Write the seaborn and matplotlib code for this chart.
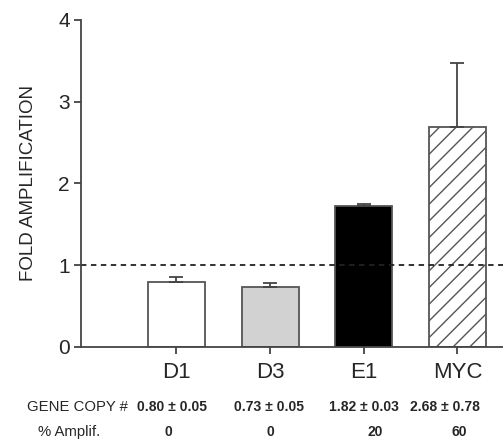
import matplotlib
matplotlib.use("Agg")
import matplotlib.pyplot as plt
import seaborn as sns
import pandas as pd

genes = ["D1", "D3", "E1", "MYC"]
fold = [0.80, 0.73, 1.72, 2.69]
fold_err = [0.05, 0.05, 0.03, 0.78]
bar_colors = ["#ffffff", "#d2d2d2", "#000000", "#ffffff"]
copy_labels = ["0.80 \u00b1 0.05", "0.73 \u00b1 0.05", "1.82 \u00b1 0.03", "2.68 \u00b1 0.78"]
amplif_labels = ["0", "0", "20", "60"]
yticks = [0, 1, 2, 3, 4]

sns.set_style("ticks")
plt.rcParams["font.family"] = ["Liberation Sans", "DejaVu Sans"]
plt.rcParams["hatch.color"] = "#444444"
plt.rcParams["hatch.linewidth"] = 1.0

df = pd.DataFrame({"gene": genes, "fold": fold})

fig = plt.figure(figsize=(5.03, 4.42), dpi=100)
ax = fig.add_axes([0.161, 0.215, 0.86, 0.74])

sns.barplot(data=df, x="gene", y="fold", hue="gene", palette=bar_colors,
            width=0.61, edgecolor="#555555", linewidth=1.3, legend=False,
            errorbar=None, ax=ax)
ax.patches[3].set_hatch("//")

# upward-only error bars
ax.errorbar(range(len(genes)), fold, yerr=[[0] * len(genes), fold_err],
            fmt="none", ecolor="#444444", elinewidth=1.3, capsize=5, capthick=1.3)

ax.axhline(1, color="#222222", linestyle=(0, (3, 2.5)), linewidth=1.3)

ax.set_xlim(-1.02, 3.6)
ax.set_ylim(0, 4)
ax.set_yticks(yticks)
ax.set_xlabel("")
ax.set_ylabel("FOLD AMPLIFICATION", fontsize=13.5, labelpad=15)
ax.tick_params(axis="y", labelsize=15, length=5, width=1.3, color="#444444", pad=3)
ax.tick_params(axis="x", labelsize=16, length=5, width=1.3, color="#444444", pad=6)
sns.despine(ax=ax)
for side in ["left", "bottom"]:
    ax.spines[side].set_color("#444444")
    ax.spines[side].set_linewidth(1.3)

# table rows under the axis
cell = dict(ha="center", va="center", clip_on=False)
ax.text(-1.06, -0.73, "GENE COPY #", fontsize=10.7, **cell)
ax.text(-1.15, -1.04, "% Amplif.", fontsize=10.7, **cell)
copy_x = [-0.05, 0.99, 2.0, 2.87]
amp_x = [-0.09, 1.0, 2.12, 3.02]
for i in range(len(genes)):
    ax.text(copy_x[i], -0.73, copy_labels[i], fontsize=10, fontweight="bold", **cell)
    ax.text(amp_x[i], -1.04, amplif_labels[i], fontsize=10, fontweight="bold", **cell)

fig.savefig("out.png", dpi=100)
